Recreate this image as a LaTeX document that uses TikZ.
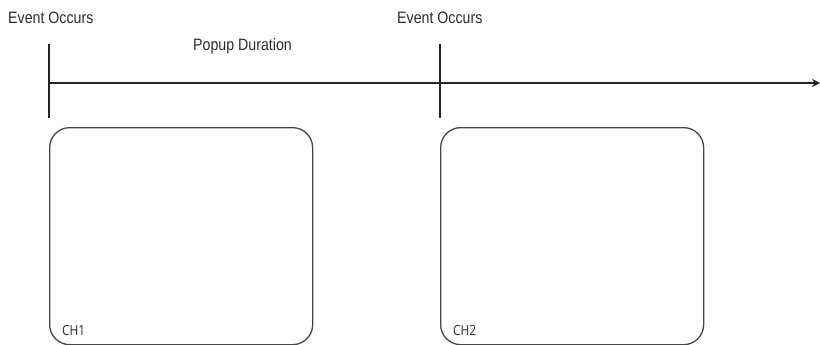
\documentclass[tikz,border=0pt]{standalone}
\usepackage{fontspec}
\setmainfont{Liberation Sans}[FakeStretch=0.86]
\newfontfamily\chfont{Open Sans}[FakeStretch=0.85]
\usetikzlibrary{arrows.meta,positioning}
\definecolor{lineblack}{RGB}{35,35,35}
\definecolor{boxgray}{RGB}{70,70,70}
\definecolor{textgray}{RGB}{45,45,45}

\begin{document}
\begin{tikzpicture}[
    x=1pt, y=-1pt,
    font=\fontsize{16.5}{19}\selectfont,
    label/.style={inner sep=0pt, anchor=west, text=textgray},
    tick/.style={line width=1.8pt, color=lineblack},
    axis/.style={-{Stealth[length=8pt,width=8pt]}, line width=1.8pt, color=lineblack},
    chbox/.style={
        rectangle, rounded corners=20pt,
        minimum width=263pt, minimum height=217pt,
        draw=boxgray, line width=1.3pt, anchor=north west
    },
    chlabel/.style={inner sep=0pt, anchor=west, text=textgray,
        font=\chfont\fontsize{14}{16}\selectfont}
]
\useasboundingbox (0,0) rectangle (820,345);

% time line
\coordinate (start) at (49,83);
\coordinate (stop)  at (820,83);
\coordinate (t1top) at (49,44);
\coordinate (t1bot) at (49,118);
\coordinate (t2top) at (440,44);
\coordinate (t2bot) at (440,118);

\draw[axis] (start) -- (stop);
\draw[tick] (t1top) -- (t1bot);
\draw[tick] (t2top) -- (t2bot);

\node[label] (ev1) at (8,18)   {Event Occurs};
\node[label] (ev2) at (397,18) {Event Occurs};
\node[label] (dur) at (193,46) {Popup Duration};

% channels
\node[chbox] (ch1) at (49,127)  {};
\node[chbox] (ch2) at (440,127) {};
\node[chlabel] (ch1name) at (62,330)  {CH1};
\node[chlabel] (ch2name) at (453,330) {CH2};
\end{tikzpicture}
\end{document}
